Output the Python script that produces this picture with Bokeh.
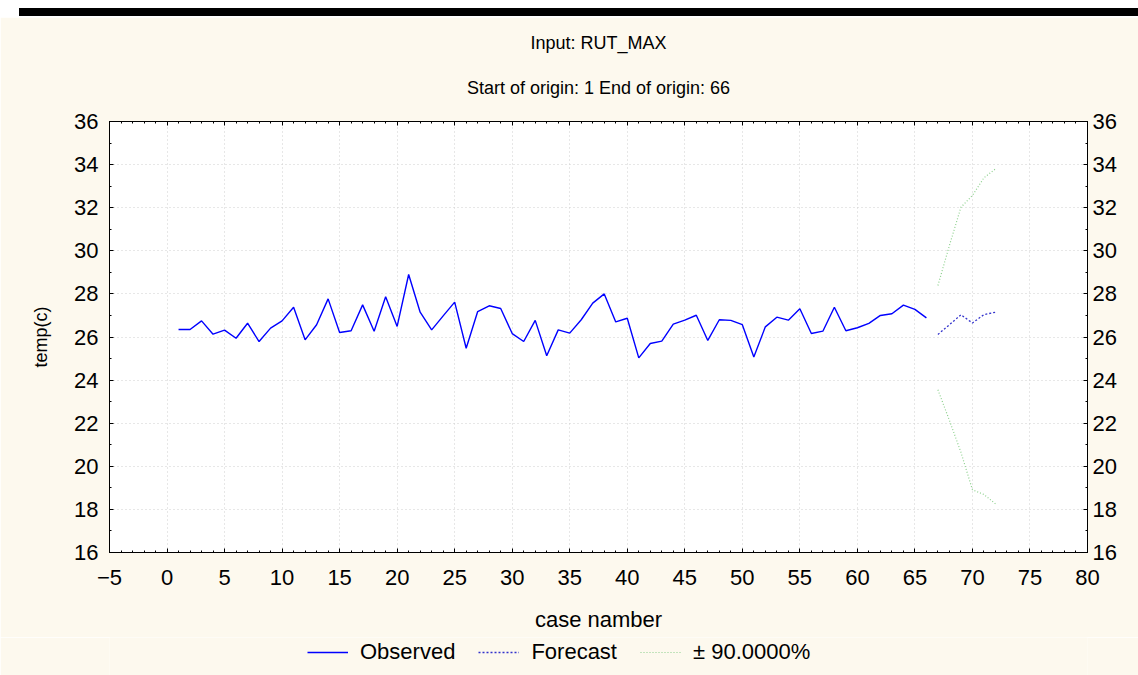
from bokeh.plotting import figure
from bokeh.models import (Range1d, LinearAxis, SingleIntervalTicker, Legend,
                          LegendItem, Title, Div)
from bokeh.layouts import column
from bokeh.embed import file_html
from bokeh.resources import INLINE

# ---------------- data ----------------
obs_x = list(range(1, 67))
obs_y = [26.35, 26.35, 26.75, 26.13, 26.32, 25.94, 26.64, 25.79, 26.41, 26.75,
         27.38, 25.87, 26.57, 27.77, 26.21, 26.29, 27.49, 26.27, 27.87, 26.49,
         28.90, 27.15, 26.33, 26.98, 27.62, 25.48, 27.18, 27.45, 27.32, 26.16,
         25.79, 26.77, 25.13, 26.33, 26.18, 26.80, 27.57, 28.00, 26.70, 26.87,
         25.03, 25.70, 25.81, 26.60, 26.78, 27.01, 25.84, 26.80, 26.77, 26.57,
         25.07, 26.47, 26.92, 26.78, 27.31, 26.16, 26.27, 27.38, 26.29, 26.43,
         26.63, 27.00, 27.08, 27.48, 27.28, 26.89]
fc_x = [67, 68, 69, 70, 71, 72]
fc_y = [26.12, 26.57, 27.03, 26.65, 27.04, 27.15]
upper_y = [28.39, 30.25, 32.02, 32.57, 33.39, 33.80]
lower_y = [23.55, 22.13, 20.65, 18.91, 18.69, 18.26]

title_main = "Input: RUT_MAX"
title_sub = "Start of origin: 1 End of origin: 66"
x_label = "case namber"
y_label = "temp(c)"
legend_labels = ["Observed", "Forecast", "\u00b1 90.0000%"]

# ---------------- style ----------------
CREAM = "#FDF9EE"
FONT = "Liberation Sans"
OBS_STYLE = dict(line_color="#0000FF", line_width=1.4)
FC_STYLE = dict(line_color="#3333CC", line_width=1.3, line_dash="2 2")
BAND_STYLE = dict(line_color="#8CD08C", line_width=1.2, line_dash="1 2")

p = figure(frame_width=978, frame_height=431,
           x_range=Range1d(-5, 80), y_range=Range1d(16, 36),
           output_backend="svg", toolbar_location=None,
           min_border_left=109, min_border_right=51,
           min_border_top=104, min_border_bottom=85,
           background_fill_color="white", border_fill_color=CREAM,
           outline_line_color="black")

xt = SingleIntervalTicker(interval=5, num_minor_ticks=5)
yt = SingleIntervalTicker(interval=2, num_minor_ticks=2)

bottom_ax = p.below[0]
left_ax = p.left[0]
bottom_ax.ticker = xt
left_ax.ticker = yt
right_ax = LinearAxis(ticker=yt)
top_ax = LinearAxis(ticker=xt)
p.add_layout(right_ax, "right")
p.add_layout(top_ax, "above")

for ax in [bottom_ax, left_ax, right_ax, top_ax]:
    ax.axis_line_color = "black"
    ax.major_tick_in = 4
    ax.major_tick_out = 0
    ax.minor_tick_in = 2
    ax.minor_tick_out = 0
    ax.major_tick_line_color = "black"
    ax.minor_tick_line_color = "black"
    ax.major_label_text_font = FONT
    ax.major_label_text_color = "black"
    ax.major_label_text_font_size = "22px"
    ax.axis_label_text_font = FONT
    ax.axis_label_text_font_style = "normal"
    ax.axis_label_text_color = "black"
# top axis: ticks only, labels not painted
top_ax.major_label_text_font_size = "1px"
top_ax.major_label_text_color = None
top_ax.major_label_standoff = 0

bottom_ax.major_label_standoff = 17
left_ax.major_label_standoff = 11
right_ax.major_label_standoff = 5

bottom_ax.axis_label = x_label
bottom_ax.axis_label_text_font_size = "22px"
bottom_ax.axis_label_standoff = 19
left_ax.axis_label = y_label
left_ax.axis_label_text_font_size = "18px"
left_ax.axis_label_standoff = 20

p.xgrid.ticker = xt
p.ygrid.ticker = yt
for g in [p.xgrid[0], p.ygrid[0]]:
    g.grid_line_color = "#cfcfcf"
    g.grid_line_dash = "1 3"
    g.grid_line_width = 1

p.line(obs_x, obs_y, **OBS_STYLE)
p.line(fc_x, fc_y, **FC_STYLE)
p.line(fc_x, upper_y, **BAND_STYLE)
p.line(fc_x, lower_y, **BAND_STYLE)

p.add_layout(Title(text=title_sub, align="center", text_font=FONT,
                   text_font_size="18px", text_font_style="normal",
                   text_color="black", standoff=47), "above")
p.add_layout(Title(text=title_main, align="center", text_font=FONT,
                   text_font_size="18px", text_font_style="normal",
                   text_color="black", standoff=0), "above")

# ---------------- legend strip below the chart ----------------
# same series drawn outside this strip's visible y-range: only the
# legend keys are shown
lg = figure(width=1138, height=38, x_range=Range1d(-5, 80),
            y_range=Range1d(100, 101),
            output_backend="svg", toolbar_location=None,
            x_axis_type=None, y_axis_type=None,
            min_border=0, min_border_left=0, min_border_right=0,
            min_border_top=0, min_border_bottom=0,
            background_fill_color=CREAM, border_fill_color=CREAM,
            outline_line_color=None)
k_obs = lg.line(obs_x, obs_y, **OBS_STYLE)
k_fc = lg.line(fc_x, fc_y, **FC_STYLE)
k_band = lg.line(fc_x, upper_y, **BAND_STYLE)
legend = Legend(items=[LegendItem(label=legend_labels[0], renderers=[k_obs]),
                       LegendItem(label=legend_labels[1], renderers=[k_fc]),
                       LegendItem(label=legend_labels[2], renderers=[k_band])],
                orientation="horizontal", location=(198, 10),
                glyph_width=41, glyph_height=20, label_standoff=12, spacing=23,
                label_text_font=FONT, label_text_font_size="22px",
                label_text_color="black",
                border_line_color=None, background_fill_alpha=0,
                margin=0, padding=0)
lg.add_layout(legend, "center")

bar = Div(text='<div style="margin:8px 0 0 19px; width:1119px; height:8px; '
               'background-color:black;"></div>',
          width=1138, height=17, margin=0,
          styles={"background-color": "white"})

layout = column(bar, p, lg, spacing=0)
open("out.html", "w").write(file_html(layout, INLINE))
